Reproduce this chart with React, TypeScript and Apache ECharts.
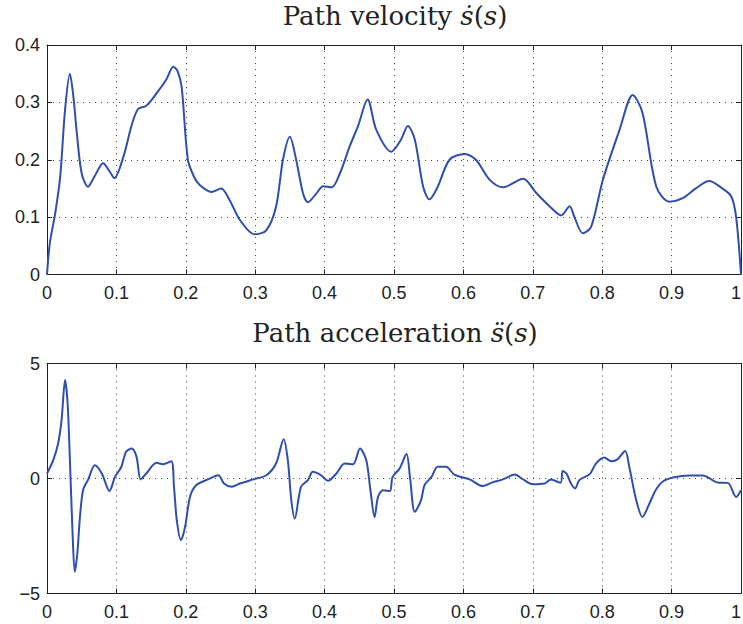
import React, { useEffect, useRef } from "react";
import * as echarts from "echarts";

const xMin = 0;
const xMax = 1;
const xInterval = 0.1;

const velTitle = "Path velocity {i|ṡ}({i|s})";
const accTitle = "Path acceleration {i|s̈}({i|s})";

// Path velocity: [s, ṡ(s)]
const velocityPoints: [number, number][] = [
  [0, 0], [0.004, 0.054], [0.012, 0.108], [0.019, 0.17], [0.026, 0.287], [0.033, 0.35],
  [0.038, 0.31], [0.043, 0.246], [0.05, 0.176], [0.059, 0.153], [0.068, 0.17], [0.081, 0.194],
  [0.09, 0.18], [0.097, 0.168], [0.11, 0.205], [0.122, 0.26], [0.131, 0.288], [0.143, 0.294],
  [0.158, 0.316], [0.172, 0.34], [0.182, 0.362], [0.188, 0.355], [0.194, 0.327], [0.203, 0.2],
  [0.212, 0.17], [0.22, 0.156], [0.237, 0.144], [0.251, 0.15], [0.263, 0.13], [0.278, 0.095],
  [0.299, 0.07], [0.316, 0.077], [0.33, 0.118], [0.34, 0.2], [0.35, 0.24], [0.359, 0.2],
  [0.369, 0.141], [0.376, 0.126], [0.388, 0.141], [0.398, 0.154], [0.41, 0.152], [0.422, 0.176],
  [0.436, 0.223], [0.448, 0.258], [0.462, 0.305], [0.4745, 0.252], [0.496, 0.214], [0.51, 0.235],
  [0.52, 0.259], [0.53, 0.235], [0.542, 0.153], [0.551, 0.131], [0.563, 0.153], [0.58, 0.2],
  [0.602, 0.21], [0.618, 0.2], [0.638, 0.165], [0.657, 0.152], [0.686, 0.167], [0.705, 0.142],
  [0.724, 0.119], [0.741, 0.103], [0.753, 0.119], [0.76, 0.1], [0.772, 0.072], [0.784, 0.083],
  [0.801, 0.165], [0.825, 0.252], [0.844, 0.313], [0.858, 0.282], [0.878, 0.153], [0.897, 0.127],
  [0.916, 0.133], [0.935, 0.15], [0.954, 0.163], [0.973, 0.15], [0.986, 0.136], [0.993, 0.1],
  [1, 0],
];

// Path acceleration: [s, s̈(s)]
const accelerationPoints: [number, number][] = [
  [0, 0.22], [0.009, 0.8], [0.016, 1.52], [0.021, 2.54], [0.026, 4.28], [0.0297, 3.26],
  [0.033, 0.8], [0.037, -2.5], [0.04, -4.06], [0.0437, -3.26], [0.0475, -1.67], [0.052, -0.5],
  [0.059, -0.07], [0.069, 0.58], [0.079, 0.22], [0.09, -0.54], [0.098, 0.07], [0.107, 0.5],
  [0.114, 1.16], [0.122, 1.3], [0.129, 0.94], [0.135, -0.04], [0.143, 0.22], [0.158, 0.68],
  [0.167, 0.62], [0.179, 0.75], [0.183, -0.36], [0.187, -1.81], [0.193, -2.68], [0.199, -2.1],
  [0.206, -0.8], [0.215, -0.29], [0.232, -0.04], [0.247, 0.14], [0.255, -0.22], [0.266, -0.36],
  [0.278, -0.22], [0.297, -0.04], [0.316, 0.14], [0.33, 0.65], [0.341, 1.71], [0.347, 0.8],
  [0.352, -0.94], [0.357, -1.74], [0.366, -0.36], [0.376, -0.07], [0.383, 0.29], [0.395, 0.14],
  [0.405, -0.1], [0.417, 0.22], [0.429, 0.65], [0.441, 0.62], [0.451, 1.3], [0.46, 0.8],
  [0.466, -0.5], [0.472, -1.67], [0.477, -0.8], [0.484, -0.51], [0.494, -0.54], [0.498, 0.07],
  [0.508, 0.43], [0.518, 1.06], [0.523, 0.07], [0.53, -1.45], [0.539, -0.94], [0.544, -0.29],
  [0.554, 0.07], [0.563, 0.51], [0.575, 0.51], [0.587, 0.17], [0.609, -0.04], [0.628, -0.33],
  [0.642, -0.17], [0.657, -0.04], [0.674, 0.17], [0.686, -0.04], [0.7, -0.25], [0.717, -0.22],
  [0.726, -0.04], [0.74, -0.19], [0.743, 0.33], [0.749, 0.19], [0.755, -0.22], [0.761, -0.43],
  [0.767, -0.07], [0.782, 0.19], [0.791, 0.65], [0.803, 0.91], [0.813, 0.75], [0.822, 0.83],
  [0.833, 1.2], [0.839, 0.51], [0.849, -0.94], [0.858, -1.67], [0.868, -1.09], [0.877, -0.51],
  [0.887, -0.14], [0.902, 0.04], [0.926, 0.13], [0.945, 0.13], [0.966, -0.17], [0.981, -0.19],
  [0.993, -0.8], [1, -0.51],
];

const velAxis = { min: 0, max: 0.4, interval: 0.1 };
const accAxis = { min: -5, max: 5, interval: 5 };

export default function App() {
  const ref = useRef<HTMLDivElement>(null);

  useEffect(() => {
    if (!ref.current) return;
    const chart = echarts.init(ref.current, null, { renderer: "svg" });

    const axisColor = "#222";
    const axisFont = {
      fontFamily: "'Liberation Sans', Arial, sans-serif",
      fontSize: 18,
      color: "#222",
    };
    const gridLine = {
      show: true,
      lineStyle: { color: "#444", type: [1, 5] as any, width: 1 },
    };
    const fmt = (v: number) => {
      const r = Math.round(v * 10) / 10;
      return r < 0 ? "\u2212" + String(Math.abs(r)) : String(r);
    };

    const makeX = (gridIndex: number, position: "bottom" | "top") => ({
      type: "value",
      gridIndex,
      min: xMin,
      max: xMax,
      interval: xInterval,
      position,
      axisLine: { show: true, onZero: false, lineStyle: { color: axisColor, width: 1 } },
      axisTick: { show: true, inside: true, length: 5, lineStyle: { color: axisColor } },
      axisLabel:
        position === "bottom"
          ? { ...axisFont, margin: 9, formatter: fmt, alignMaxLabel: "right" }
          : { show: false },
      splitLine: position === "bottom" ? gridLine : { show: false },
    });

    const makeY = (
      gridIndex: number,
      position: "left" | "right",
      range: { min: number; max: number; interval: number }
    ) => ({
      type: "value",
      gridIndex,
      ...range,
      position,
      axisLine: { show: true, onZero: false, lineStyle: { color: axisColor, width: 1 } },
      axisTick: { show: true, inside: true, length: 5, lineStyle: { color: axisColor } },
      axisLabel:
        position === "left" ? { ...axisFont, margin: 7, formatter: fmt } : { show: false },
      splitLine: position === "left" ? gridLine : { show: false },
    });

    const titleStyle = (text: string, y: number) => ({
      type: "text",
      x: 395,
      y,
      silent: true,
      style: {
        text,
        fill: "#222",
        fontFamily: "'DejaVu Serif', serif",
        fontSize: 26,
        align: "center",
        verticalAlign: "top",
        rich: {
          i: {
            fontFamily: "'DejaVu Serif', serif",
            fontStyle: "italic",
            fontSize: 26,
            fill: "#222",
          },
        },
      },
    });

    const lineColor = "#2f4fb0";

    chart.setOption({
      animation: false,
      backgroundColor: "#fff",
      graphic: [titleStyle(velTitle, 3), titleStyle(accTitle, 320)],
      grid: [
        { left: 47, top: 45, width: 694, height: 229.5, outerBoundsMode: "none" },
        { left: 47, top: 363.5, width: 694, height: 230, outerBoundsMode: "none" },
      ],
      xAxis: [makeX(0, "bottom"), makeX(0, "top"), makeX(1, "bottom"), makeX(1, "top")],
      yAxis: [
        makeY(0, "left", velAxis),
        makeY(0, "right", velAxis),
        makeY(1, "left", accAxis),
        makeY(1, "right", accAxis),
      ],
      series: [
        {
          type: "line",
          xAxisIndex: 0,
          yAxisIndex: 0,
          data: velocityPoints,
          smooth: 0.3,
          showSymbol: false,
          lineStyle: { color: lineColor, width: 2 },
          itemStyle: { color: lineColor },
        },
        {
          type: "line",
          xAxisIndex: 2,
          yAxisIndex: 2,
          data: accelerationPoints,
          smooth: 0.3,
          showSymbol: false,
          lineStyle: { color: lineColor, width: 2 },
          itemStyle: { color: lineColor },
        },
      ],
    });

    return () => chart.dispose();
  }, []);

  return (
    <div
      ref={ref}
      style={{ position: "fixed", left: 0, top: 0, width: 743, height: 624, background: "#fff" }}
    />
  );
}
